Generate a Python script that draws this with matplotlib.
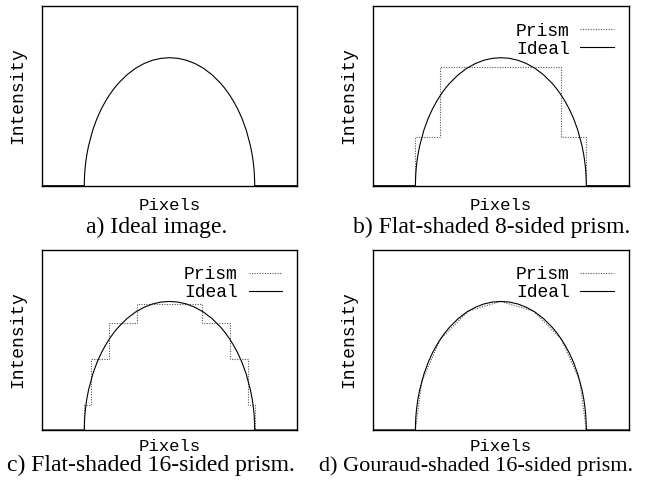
import matplotlib
matplotlib.use("Agg")
import matplotlib.pyplot as plt

# ideal intensity profile
ideal_x = [-1.5, -1.0, -0.999, -0.995, -0.99, -0.98, -0.97, -0.95, -0.9, -0.85, -0.8,
           -0.75, -0.7, -0.65, -0.6, -0.5, -0.4, -0.3, -0.2, -0.1, 0.0,
           0.1, 0.2, 0.3, 0.4, 0.5, 0.6, 0.65, 0.7, 0.75, 0.8,
           0.85, 0.9, 0.95, 0.97, 0.98, 0.99, 0.995, 0.999, 1.0, 1.5]
ideal_y = [0.0, 0.0, 0.045, 0.1, 0.141, 0.199, 0.243, 0.312, 0.436, 0.527, 0.6,
           0.661, 0.714, 0.76, 0.8, 0.866, 0.917, 0.954, 0.98, 0.995, 1.0,
           0.995, 0.98, 0.954, 0.917, 0.866, 0.8, 0.76, 0.714, 0.661, 0.6,
           0.527, 0.436, 0.312, 0.243, 0.199, 0.141, 0.1, 0.045, 0.0, 0.0]

# flat-shaded 8-sided prism
flat8_edges = [-1.5, -1.0, -0.707, 0.0, 0.707, 1.0, 1.5]
flat8_levels = [0.0, 0.383, 0.924, 0.924, 0.383, 0.0]

# flat-shaded 16-sided prism
flat16_edges = [-1.5, -1.0, -0.924, -0.707, -0.383, 0.0, 0.383, 0.707, 0.924, 1.0, 1.5]
flat16_levels = [0.0, 0.195, 0.556, 0.831, 0.981, 0.981, 0.831, 0.556, 0.195, 0.0]

# gouraud-shaded 16-sided prism
gouraud_x = [-1.5, -1.0, -0.924, -0.707, -0.383, 0.0, 0.383, 0.707, 0.924, 1.0, 1.5]
gouraud_y = [0.0, 0.0, 0.383, 0.707, 0.924, 1.0, 0.924, 0.707, 0.383, 0.0, 0.0]

captions = ["a) Ideal image.", "b) Flat-shaded 8-sided prism.",
            "c) Flat-shaded 16-sided prism.", "d) Gouraud-shaded 16-sided prism."]

W, H = 657, 483
MONO = "Liberation Mono"
SERIF = "Liberation Serif"
PRISM_STYLE = dict(color="#555555", lw=0.8, linestyle=(0, (1, 1.3)))


def px_axes(fig, left, top, right, bottom):
    return fig.add_axes([left / W, 1 - bottom / H, (right - left) / W, (bottom - top) / H])


def style_axes(ax):
    ax.set_xlim(-1.5, 1.5)
    ax.set_ylim(0, 1.4)
    ax.set_xticks([])
    ax.set_yticks([])
    for sp in ax.spines.values():
        sp.set_linewidth(1.0)


def add_legend(ax):
    ax.legend(loc="upper right", bbox_to_anchor=(0.997, 0.99), frameon=False,
              markerfirst=False, handlelength=1.85, handletextpad=0.6,
              labelspacing=0.05, borderpad=0.3, prop={"family": MONO, "size": 13})


fig = plt.figure(figsize=(W / 100, H / 100), dpi=100)

boxes = [(41.7, 6.5, 297.3, 185.7), (372.7, 6.5, 629, 185.7),
         (41.7, 250, 297.3, 430), (372.7, 250, 629, 430)]
axes = [px_axes(fig, *b) for b in boxes]
for ax in axes:
    style_axes(ax)

axes[0].plot(ideal_x, ideal_y, color="black", lw=0.8)

axes[1].stairs(flat8_levels, flat8_edges, baseline=None, label="Prism", **PRISM_STYLE)
axes[1].plot(ideal_x, ideal_y, color="black", lw=0.8, label="Ideal")

axes[2].stairs(flat16_levels, flat16_edges, baseline=None, label="Prism", **PRISM_STYLE)
axes[2].plot(ideal_x, ideal_y, color="black", lw=0.8, label="Ideal")

axes[3].plot(gouraud_x, gouraud_y, label="Prism", **PRISM_STYLE)
axes[3].plot(ideal_x, ideal_y, color="black", lw=0.8, label="Ideal")

for ax in axes[1:]:
    add_legend(ax)

# axis labels and captions, placed in pixels
ylab_x = [17.5, 348.5, 17.5, 348.5]
xlab_y = [210, 210, 451, 451]
cap_x = [156.5, 491.7, 151, 476]
cap_y = [233, 233, 471, 471]
cap_size = [17, 17, 17, 16]
for i, (l, t, r, b) in enumerate(boxes):
    fig.text(ylab_x[i] / W, 1 - (t + b) / 2 / H, "Intensity", rotation=90,
             ha="center", va="center", family=MONO, size=13)
    fig.text((l + r) / 2 / W, 1 - xlab_y[i] / H, "Pixels",
             ha="center", va="baseline", family=MONO, size=12.5)
    fig.text(cap_x[i] / W, 1 - cap_y[i] / H, captions[i],
             ha="center", va="baseline", family=SERIF, size=cap_size[i])

fig.savefig("out.png", dpi=100)
